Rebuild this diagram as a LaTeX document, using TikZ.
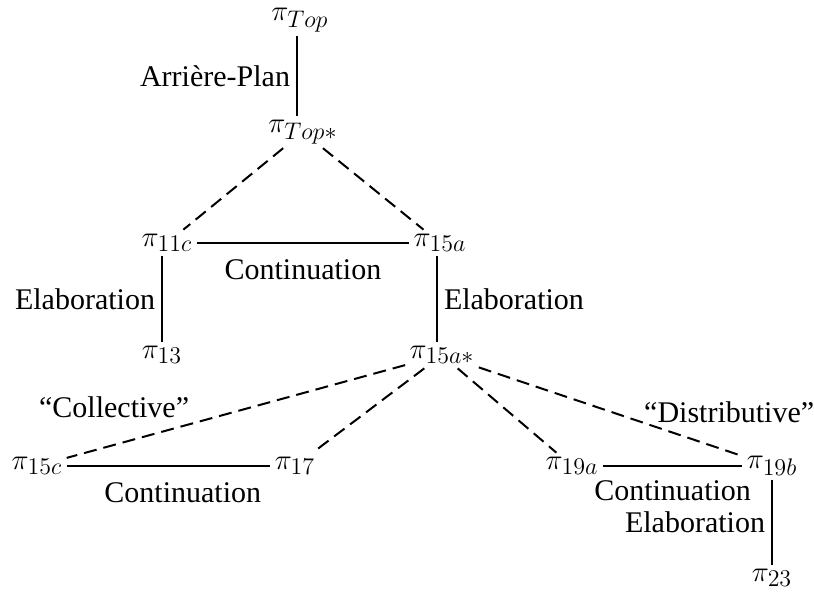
\documentclass[tikz,border=0pt]{standalone}
\usepackage[no-math]{fontspec}
\setmainfont{Liberation Serif}
\DeclareMathSizes{14}{14}{12}{8}
\usetikzlibrary{arrows.meta}

\begin{document}
\begin{tikzpicture}[
    x=0.5pt, y=-0.5pt,
    seg/.style={inner sep=2pt, font=\fontsize{14}{16}\selectfont},
    rel/.style={font=\fontsize{15}{17}\selectfont, inner sep=3pt},
    sub/.style={line width=1pt, dash pattern=on 6.5pt off 3.5pt},
    coord/.style={line width=1pt},
    font=\fontsize{15}{17}\selectfont
]
    \useasboundingbox (0,0) rectangle (814,591);

    % 节点定义
    \node[seg] (top)     at (300, 20)  {$\pi_{Top}$};
    \node[seg] (topst)   at (303, 132) {$\pi_{Top*}$};
    \node[seg] (p11c)    at (167, 243) {$\pi_{11c}$};
    \node[seg] (p15a)    at (440, 243) {$\pi_{15a}$};
    \node[seg] (p13)     at (162, 355) {$\pi_{13}$};
    \node[seg] (p15ast)  at (442, 355) {$\pi_{15a*}$};
    \node[seg] (p15c)    at (37, 466)  {$\pi_{15c}$};
    \node[seg] (p17)     at (295, 466) {$\pi_{17}$};
    \node[seg] (p19a)    at (572, 466) {$\pi_{19a}$};
    \node[seg] (p19b)    at (772, 466) {$\pi_{19b}$};
    \node[seg] (p23)     at (772, 578) {$\pi_{23}$};

    % 1. 上层
    \draw[coord] ([xshift=-1.5pt]top.south) -- node[rel, left] {Arrière-Plan} ([xshift=-1.5pt]top.south |- topst.north);
    \draw[sub] (topst) -- (p11c);
    \draw[sub] (topst) -- (p15a);

    % 2. 中层
    \draw[coord] (p11c) -- node[rel, below=5pt] {Continuation} (p15a);
    \draw[coord] (p11c.south -| p13) -- node[rel, left] {Elaboration} (p13);
    \draw[coord] ([xshift=-1.5pt]p15a.south) -- node[rel, right] {Elaboration} ([xshift=-1.5pt]p15a.south |- p15ast.north);

    % 3. 下层 (虚线从 pi_15a* 出发)
    \draw[sub] (p15ast) -- node[rel, pos=0.86, above=10pt] {``Collective''} (p15c);
    \draw[sub] (p15ast) -- (p17);
    \draw[sub] (p15ast) -- (p19a);
    \draw[sub] (p15ast) -- node[rel, pos=0.95, above=11pt] {``Distributive''} (p19b);

    \draw[coord] (p15c) -- node[rel, pos=0.57, below=5pt] {Continuation} (p17);
    \draw[coord] (p19a) -- node[rel, below=4pt] {Continuation} (p19b);
    \draw[coord] (p19b) -- node[rel, left] {Elaboration} (p23);

\end{tikzpicture}
\end{document}
